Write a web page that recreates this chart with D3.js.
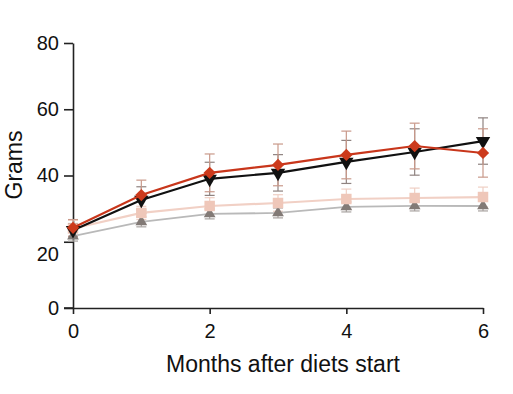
<!DOCTYPE html>
<html>
<head>
<meta charset="utf-8">
<script src="https://cdn.jsdelivr.net/npm/d3@7"></script>
<style>
  body { margin: 0; background: #fff; }
  svg { display: block; font-family: "Liberation Sans", Arial, sans-serif; }
</style>
</head>
<body>
<div id="chart"></div>
<script>
// months after diets start
const months = [0, 1, 2, 3, 4, 5, 6];
const yTicks = [0, 20, 40, 60, 80];
const xTicks = [0, 2, 4, 6];

// body weight (grams), mean and error per group
const redMean   = [24.2, 34.1, 40.8, 43.2, 46.2, 48.9, 46.8];
const redErr    = [2.5, 4.5, 5.7, 6.3, 7.2, 6.9, 7.3];
const blackMean = [23.5, 32.6, 39.0, 40.8, 44.1, 47.1, 50.4];
const blackErr  = [2.0, 4.0, 5.0, 5.5, 6.5, 7.0, 7.0];
const pinkMean  = [24.0, 28.7, 30.8, 31.7, 32.9, 33.2, 33.5];
const pinkErr   = [2.5, 2.0, 2.5, 2.5, 3.0, 3.0, 3.0];
const greyMean  = [21.7, 26.0, 28.4, 28.7, 30.5, 30.8, 30.8];
const greyErr   = [1.5, 1.5, 1.5, 1.5, 1.5, 1.5, 1.5];

const W = 513, H = 394;
const margin = { top: 43, right: 30, bottom: 86, left: 73 };
const width = W - margin.left - margin.right;
const height = H - margin.top - margin.bottom;

const svg = d3.select("#chart").append("svg")
  .attr("width", W).attr("height", H);
const g = svg.append("g")
  .attr("transform", `translate(${margin.left},${margin.top})`);

const x = d3.scaleLinear().domain([0, 6]).range([0, width]);
const y = d3.scaleLinear().domain([0, 80]).range([height, 0]);

// axes
const yAxis = g.append("g")
  .call(d3.axisLeft(y).tickValues(yTicks).tickSize(9).tickPadding(5).tickSizeOuter(0));
yAxis.select(".domain").attr("stroke", "#222").attr("stroke-width", 1.6);
yAxis.selectAll(".tick line").attr("stroke", "#222").attr("stroke-width", 1.6);
yAxis.selectAll(".tick text").attr("font-size", 20).attr("fill", "#111");
// the "20" label sits a bit low in the original
yAxis.selectAll(".tick").filter(d => d === 20).select("text").attr("dy", "0.95em");

const xAxis = g.append("g")
  .attr("transform", `translate(0,${height})`)
  .call(d3.axisBottom(x).tickValues(xTicks).tickFormat(d3.format("d"))
    .tickSize(6).tickPadding(10).tickSizeOuter(0));
xAxis.select(".domain").attr("stroke", "#222").attr("stroke-width", 1.6);
xAxis.selectAll(".tick line").attr("stroke", "#222").attr("stroke-width", 1.6);
xAxis.selectAll(".tick text").attr("font-size", 20).attr("fill", "#111");
// left overhang of x axis under y axis
g.append("line")
  .attr("x1", -9).attr("x2", 0).attr("y1", y(0)).attr("y2", y(0))
  .attr("stroke", "#222").attr("stroke-width", 1.6);

// labels
svg.append("text")
  .attr("x", margin.left + width / 2 + 5).attr("y", 372)
  .attr("text-anchor", "middle").attr("font-size", 23).attr("fill", "#111")
  .text("Months after diets start");
svg.append("text")
  .attr("transform", `translate(22,${margin.top + 122}) rotate(-90)`)
  .attr("text-anchor", "middle").attr("font-size", 23).attr("fill", "#111")
  .text("Grams");

const series = [
  { mean: greyMean,  err: greyErr,  line: "#b9b9b9", mark: "#827a76", bar: "#a8a3a0", sym: d3.symbolTriangle, size: 60, rot: 0,  lw: 1.8 },
  { mean: pinkMean,  err: pinkErr,  line: "#f1d0c5", mark: "#efc7b9", bar: "#efcfc4", sym: d3.symbolSquare,   size: 110, rot: 0, lw: 2.2 },
  { mean: blackMean, err: blackErr, line: "#111111", mark: "#111111", bar: "#8f8380", sym: d3.symbolTriangle, size: 90, rot: 180, lw: 2.2 },
  { mean: redMean,   err: redErr,   line: "#c8361b", mark: "#cc3a1c", bar: "#c9998a", sym: d3.symbolSquare,   size: 75, rot: 45, lw: 2.2 }
];

// error bars first
series.forEach(s => {
  const eb = g.append("g").attr("stroke", s.bar).attr("stroke-width", 1.2).attr("fill", "none");
  months.forEach((m, i) => {
    const cx = x(m), hi = y(s.mean[i] + s.err[i]), lo = y(s.mean[i] - s.err[i]);
    eb.append("line").attr("x1", cx).attr("x2", cx).attr("y1", hi).attr("y2", lo);
    eb.append("line").attr("x1", cx - 5).attr("x2", cx + 5).attr("y1", hi).attr("y2", hi);
    eb.append("line").attr("x1", cx - 5).attr("x2", cx + 5).attr("y1", lo).attr("y2", lo);
  });
});

// lines and markers
const line = d3.line().x((d, i) => x(months[i])).y(d => y(d));
series.forEach(s => {
  g.append("path")
    .datum(s.mean)
    .attr("d", line)
    .attr("fill", "none")
    .attr("stroke", s.line)
    .attr("stroke-width", s.lw);
  g.selectAll(null)
    .data(s.mean)
    .enter().append("path")
    .attr("d", d3.symbol().type(s.sym).size(s.size))
    .attr("transform", (d, i) => `translate(${x(months[i])},${y(d)}) rotate(${s.rot})`)
    .attr("fill", s.mark);
});
</script>
</body>
</html>
